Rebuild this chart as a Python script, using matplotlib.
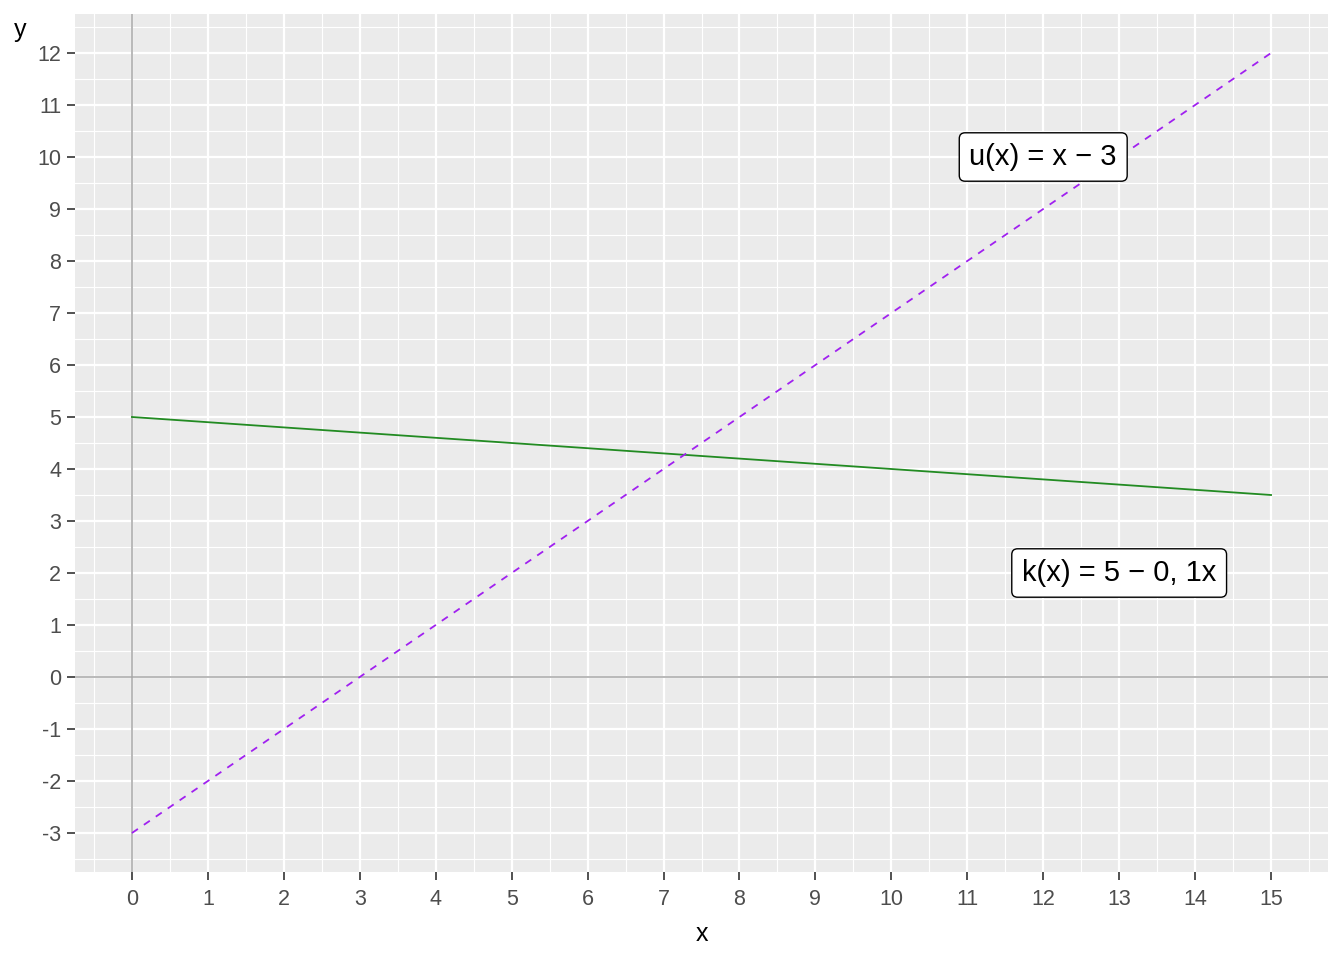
import matplotlib.pyplot as plt
from matplotlib.ticker import MultipleLocator

plt.rcParams['font.family'] = ['Liberation Sans', 'DejaVu Sans']
plt.rcParams['axes.unicode_minus'] = False

# values
x_vals = [0, 1, 2, 3, 4, 5, 6, 7, 8, 9, 10, 11, 12, 13, 14, 15]
k_vals = [5.0, 4.9, 4.8, 4.7, 4.6, 4.5, 4.4, 4.3, 4.2, 4.1, 4.0, 3.9, 3.8, 3.7, 3.6, 3.5]
u_vals = [-3, -2, -1, 0, 1, 2, 3, 4, 5, 6, 7, 8, 9, 10, 11, 12]

u_label = "u(x) = x \u2212 3"
k_label = "k(x) = 5 \u2212 0, 1x"
u_label_pos = (12, 10)
k_label_pos = (13, 2)

fig = plt.figure(figsize=(13.44, 9.6), dpi=100)
ax = fig.add_axes([75 / 1344, 1 - 872 / 960, 1253 / 1344, 858 / 960])
ax.set_facecolor('#EBEBEB')

ax.set_xlim(-0.75, 15.75)
ax.set_ylim(-3.75, 12.75)
ax.xaxis.set_major_locator(MultipleLocator(1))
ax.yaxis.set_major_locator(MultipleLocator(1))
ax.xaxis.set_minor_locator(MultipleLocator(0.5))
ax.yaxis.set_minor_locator(MultipleLocator(0.5))

ax.grid(which='major', color='white', linewidth=1.6)
ax.grid(which='minor', color='white', linewidth=0.8)
ax.set_axisbelow(True)
for s in ax.spines.values():
    s.set_visible(False)

ax.tick_params(which='major', length=6, width=1.2, color='#333333',
               labelcolor='#4D4D4D', labelsize=15.5, pad=4)
ax.tick_params(axis='x', which='major', pad=6)
ax.tick_params(which='minor', length=0)

ax.axhline(0, color='#A6A6A6', linewidth=1.1, zorder=1.5)
ax.axvline(0, color='#A6A6A6', linewidth=1.1, zorder=1.5)

ax.plot(x_vals, k_vals, color='#228B22', linewidth=1.3, zorder=3)
ax.plot(x_vals, u_vals, color='#A020F0', linewidth=1.3,
        linestyle=(0, (4, 4)), zorder=3)

box = dict(boxstyle='round,pad=0.35,rounding_size=0.2', facecolor='white',
           edgecolor='black', linewidth=1.0)
ax.text(*u_label_pos, u_label, fontsize=21, ha='center', va='center',
        bbox=box, zorder=4)
ax.text(*k_label_pos, k_label, fontsize=21, ha='center', va='center',
        bbox=box, zorder=4)

ax.set_xlabel('x', fontsize=18, labelpad=9)
fig.text(20 / 1344, 1 - 30 / 960, 'y', fontsize=18, ha='center', va='center')

fig.savefig('out.png', dpi=100, facecolor='white')
